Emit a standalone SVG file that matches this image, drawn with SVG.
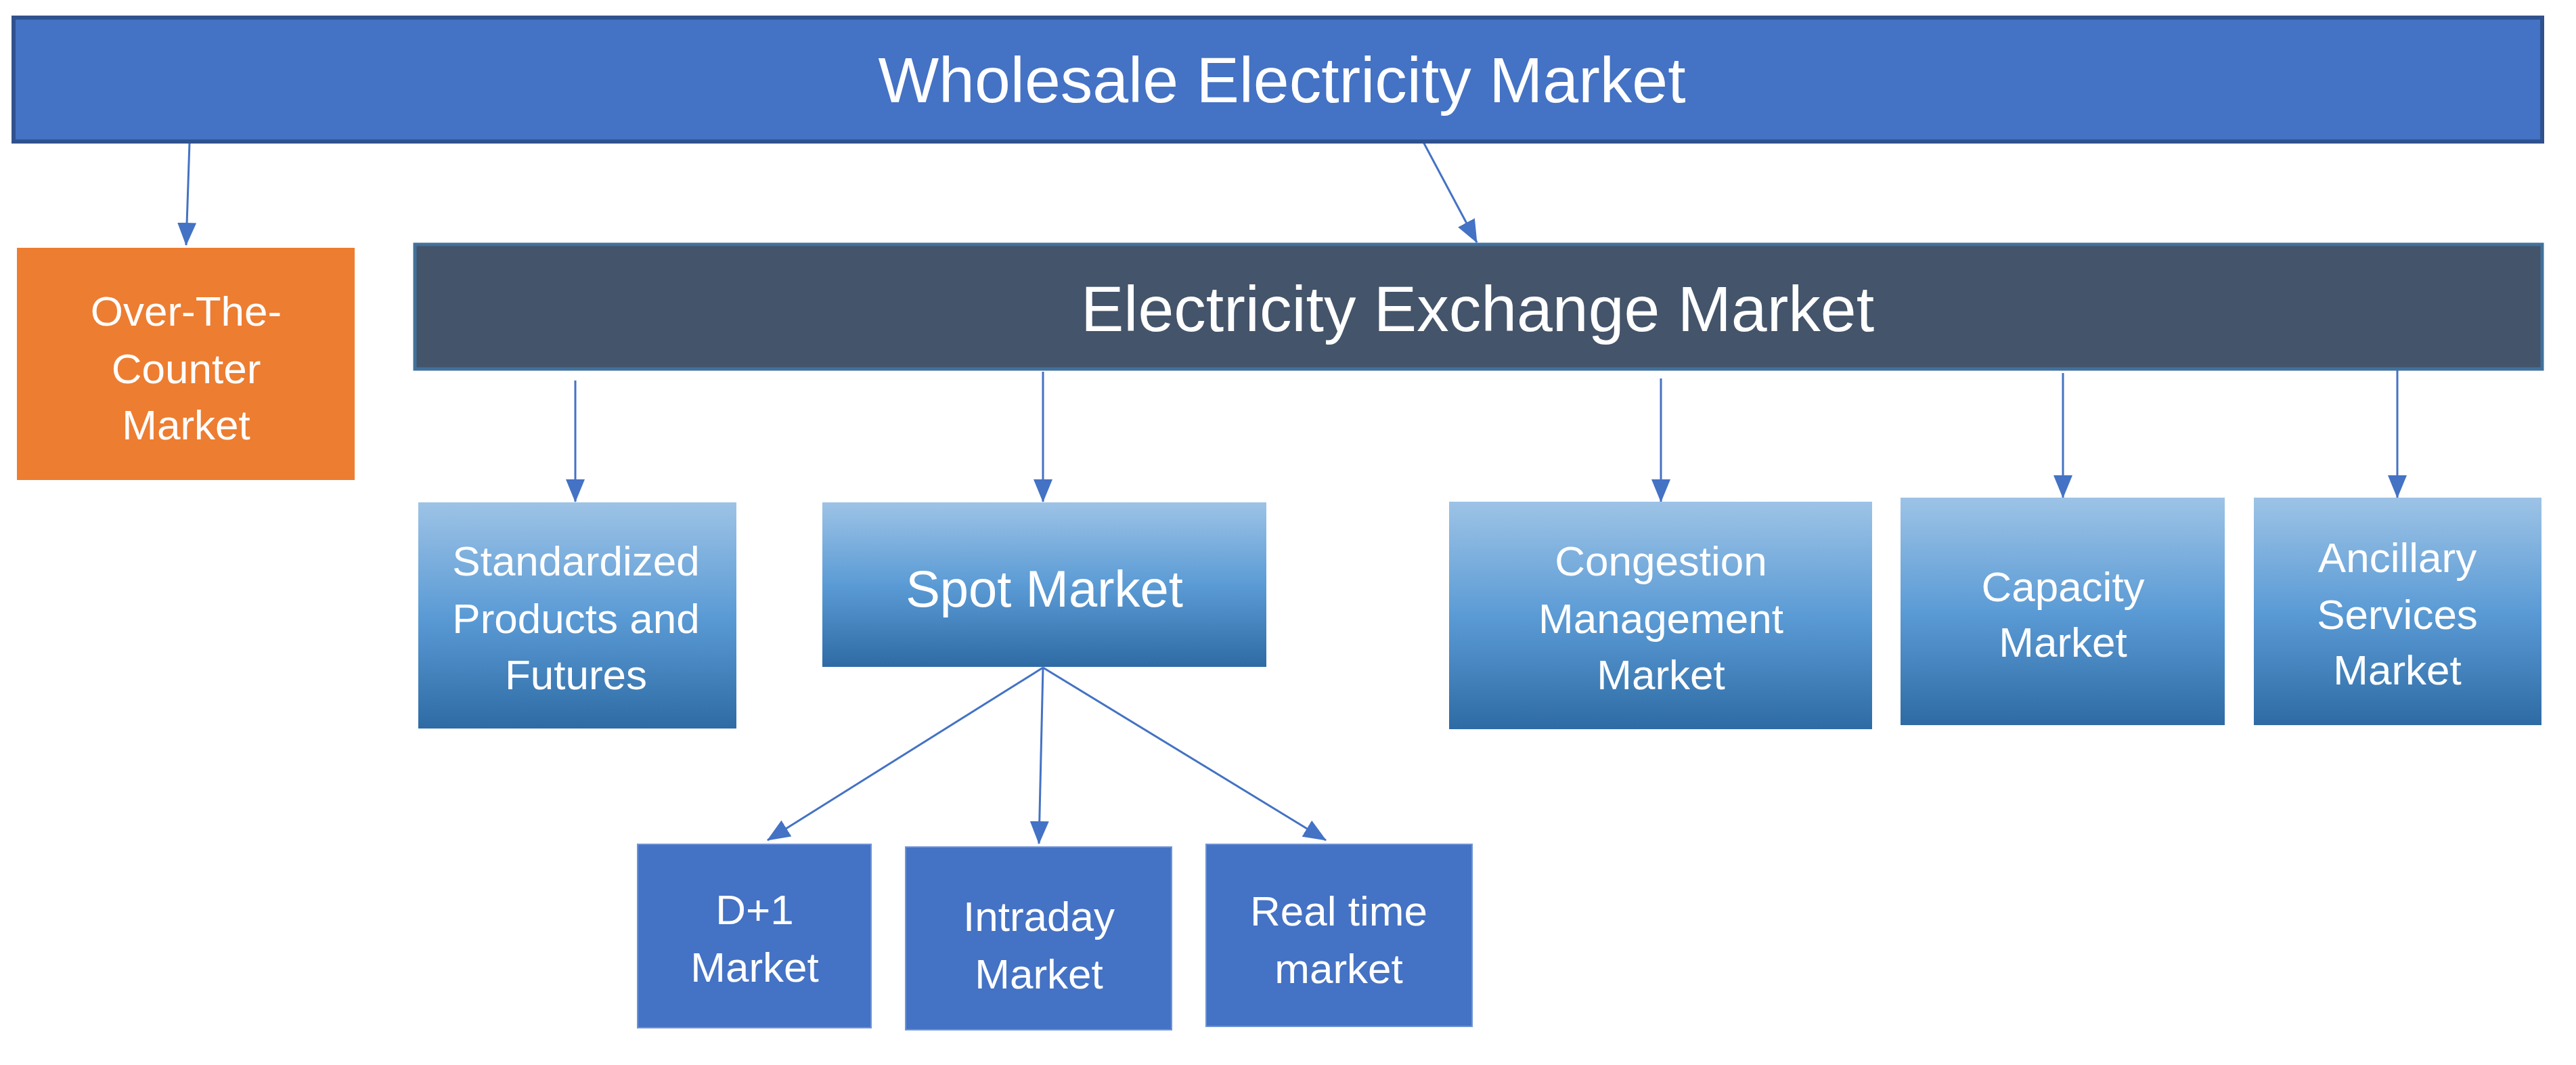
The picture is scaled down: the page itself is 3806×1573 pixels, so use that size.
<svg xmlns="http://www.w3.org/2000/svg" width="3806" height="1573" viewBox="0 0 3806 1573">
<style>
text{font-family:"Liberation Sans",Arial,sans-serif;fill:#fff;text-anchor:middle;dominant-baseline:central}
.s{font-size:62px}
.c{stroke:#4472C4;stroke-width:3;fill:none;marker-end:url(#ah)}
.g{fill:url(#gr)}
.b{fill:#4472C4;stroke:#6F93D6;stroke-width:2}
</style>
<defs>
<linearGradient id="gr" x1="0" y1="0" x2="0" y2="1"><stop offset="0" stop-color="#9DC3E6"/><stop offset="0.5" stop-color="#5B9BD5"/><stop offset="1" stop-color="#2E6BA5"/></linearGradient>
<marker id="ah" viewBox="0 0 34 28" refX="33" refY="14" markerWidth="34" markerHeight="28" markerUnits="userSpaceOnUse" orient="auto"><path d="M0,0 L34,14 L0,28 z" fill="#4472C4"/></marker>
</defs>
<g id="connectors">
<line class="c" x1="280" y1="211" x2="275" y2="362"/>
<line class="c" x1="2102" y1="208" x2="2182" y2="358"/>
<line class="c" x1="850" y1="562" x2="850" y2="741"/>
<line class="c" x1="1541" y1="549" x2="1541" y2="741"/>
<line class="c" x1="2454" y1="559" x2="2454" y2="741"/>
<line class="c" x1="3048" y1="551" x2="3048" y2="735"/>
<line class="c" x1="3542" y1="537" x2="3542" y2="735"/>
<line class="c" x1="1541" y1="986" x2="1134" y2="1241"/>
<line class="c" x1="1541" y1="986" x2="1535" y2="1246"/>
<line class="c" x1="1541" y1="986" x2="1959" y2="1241"/>
</g>
<g id="wholesale"><rect x="20" y="26" width="3736" height="183" fill="#4472C4" stroke="#2F528F" stroke-width="6"/><text x="1894" y="118" style="font-size:95px">Wholesale Electricity Market</text></g>
<g id="otc"><rect x="25" y="366" width="499" height="343" fill="#ED7D31"/><text class="s" x="275" y="459">Over-The-</text><text class="s" x="275" y="544">Counter</text><text class="s" x="275" y="627">Market</text></g>
<g id="exchange"><rect x="613" y="361" width="3143" height="184" fill="#44546A" stroke="#41719C" stroke-width="5"/><text x="2183" y="456" style="font-size:95px">Electricity Exchange Market</text></g>
<g id="standardized"><rect class="g" x="618" y="742" width="470" height="334"/><text class="s" x="851" y="828">Standardized</text><text class="s" x="851" y="913">Products and</text><text class="s" x="851" y="996">Futures</text></g>
<g id="spot"><rect class="g" x="1215" y="742" width="656" height="243"/><text x="1543" y="869" style="font-size:76px">Spot Market</text></g>
<g id="congestion"><rect class="g" x="2141" y="741" width="625" height="336"/><text class="s" x="2454" y="828">Congestion</text><text class="s" x="2454" y="913">Management</text><text class="s" x="2454" y="996">Market</text></g>
<g id="capacity"><rect class="g" x="2808" y="735" width="479" height="336"/><text class="s" x="3048" y="866">Capacity</text><text class="s" x="3048" y="948">Market</text></g>
<g id="ancillary"><rect class="g" x="3330" y="735" width="425" height="336"/><text class="s" x="3542" y="823">Ancillary</text><text class="s" x="3542" y="907">Services</text><text class="s" x="3542" y="989">Market</text></g>
<g id="d1"><rect class="b" x="942" y="1247" width="345" height="271"/><text class="s" x="1115" y="1343">D+1</text><text class="s" x="1115" y="1428">Market</text></g>
<g id="intraday"><rect class="b" x="1338" y="1251" width="393" height="270"/><text class="s" x="1535" y="1353">Intraday</text><text class="s" x="1535" y="1438">Market</text></g>
<g id="realtime"><rect class="b" x="1782" y="1247" width="393" height="269"/><text class="s" x="1978" y="1345">Real time</text><text class="s" x="1978" y="1430">market</text></g>
</svg>
